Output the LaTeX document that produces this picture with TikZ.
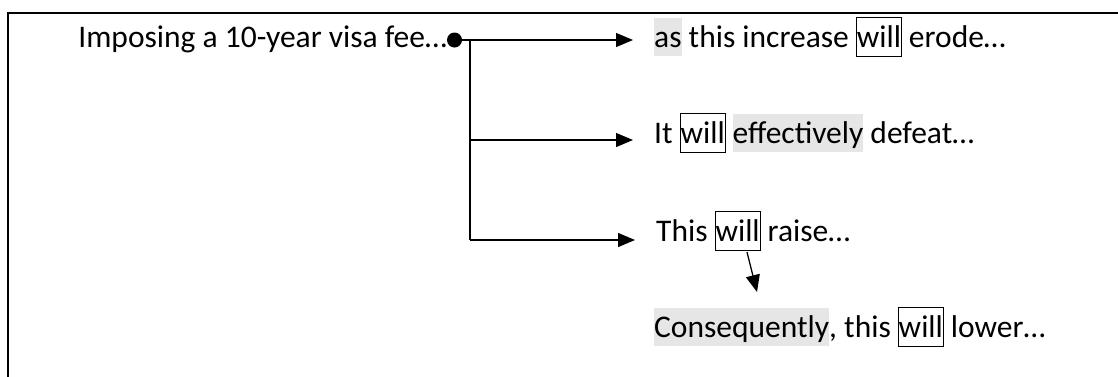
\documentclass[tikz,border=0pt]{standalone}
\usepackage{fontspec}
\setmainfont{Carlito}
\usetikzlibrary{arrows.meta}
\definecolor{hlgray}{HTML}{E6E6E6}
\newcommand{\linestrut}{\rule[-0.269em]{0pt}{1.221em}}
\newcommand{\grayhl}[1]{{\setlength{\fboxsep}{0pt}\colorbox{hlgray}{\linestrut#1}}}
\newcommand{\willbox}[1]{{\setlength{\fboxsep}{0pt}\setlength{\fboxrule}{0.8pt}\fbox{\linestrut#1}}}
\tikzset{
  txt/.style={anchor=west, inner xsep=21pt, inner ysep=0pt, font=\fontsize{31.5}{38}\selectfont},
  flow/.style={-{Triangle[length=17pt,width=14pt]}, line width=1.3pt},
}
\begin{document}
\begin{tikzpicture}[x=1pt,y=-1pt]
\useasboundingbox (0,0) rectangle (1118,376);
% frame, cut off at right and bottom
\draw[line width=1.8pt] (8,380) -- (8,13) -- (1122,13);
% source and its bullet
\node[txt, anchor=east, inner xsep=0pt] (fee) at (447,37) {\linestrut Imposing a 10-year visa fee…};
\coordinate (dot) at (454.5,40);
\fill (dot) circle (7.5);
% branch points on the trunk
\coordinate (b1) at (470,40);
\coordinate (b2) at (470,140);
\coordinate (b3) at (470,240);
\node[txt] (erode) at (633,37) {\grayhl{as} this increase \willbox{will} erode…};
\node[txt] (defeat) at (633,133) {It \willbox{will} \grayhl{effectively} defeat…};
\node[txt] (raise) at (635,231) {This \willbox{will} raise…};
\node[txt] (lower) at (633,327) {\grayhl{Consequently}, this \willbox{will} lower…};
\draw[line width=1.3pt] (dot) -- (b1) -- (b3);
\draw[flow] (b1) -- (b1 -| erode.west);
\draw[flow] (b2) -- (b2 -| defeat.west);
\draw[flow] (b3) -- (b3 -| raise.west);
% consequence
\coordinate (c1) at (747,252);
\coordinate (c2) at (757,292);
\draw[flow] (c1) -- (c2);
\end{tikzpicture}
\end{document}
